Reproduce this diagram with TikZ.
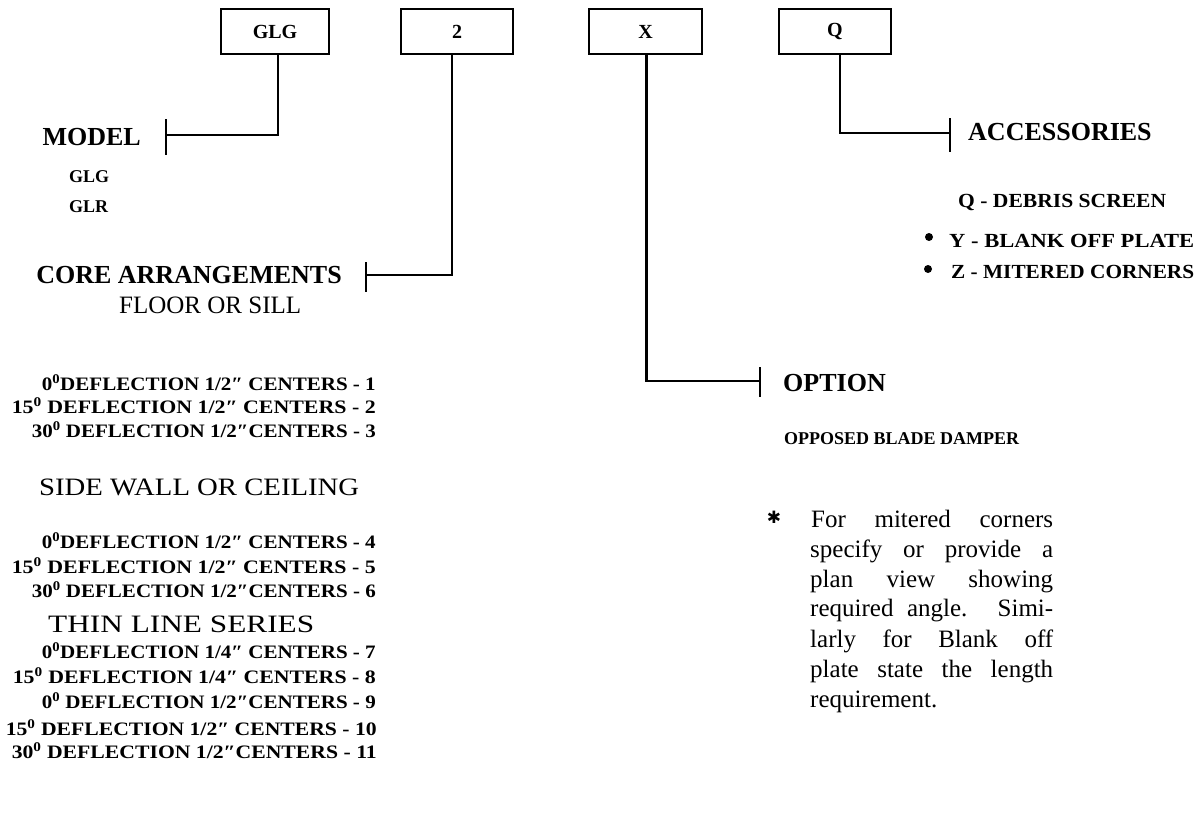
\documentclass[tikz,border=0pt]{standalone}
\usepackage{fontspec}
\setmainfont{Liberation Serif}
\newfontfamily\djv{DejaVu Sans}
\usepackage{graphicx}
\newcommand{\fs}[1]{\fontsize{#1}{#1}\selectfont}
\newcommand{\fitw}[2]{\resizebox{#1pt}{\height}{#2}}
\newcommand{\inch}{\char"2033\relax}
\newcommand{\dg}{\textsuperscript{0}}
\begin{document}
\begin{tikzpicture}[x=1pt,y=-1pt, line width=2.4pt,
  box/.style={draw, minimum height=45pt, inner sep=0pt, font=\fs{20}\bfseries},
  head/.style={inner sep=0pt, font=\fs{26}\bfseries},
  item/.style={inner sep=0pt, anchor=base east, font=\fs{19}\bfseries},
  sub/.style={inner sep=0pt, anchor=base west, font=\fs{25}},
  note/.style={inner sep=0pt, anchor=base west, font=\fs{25}},
  acc/.style={inner sep=0pt, anchor=base west, font=\fs{20}\bfseries},
  dot/.style={circle, fill, inner sep=0pt, minimum size=8pt},
  tick/.style={line width=2.4pt}
]
\useasboundingbox (0,0) rectangle (1200,814);

% code boxes
\node[box, minimum width=108pt] (glg) at (275,31.5) {GLG};
\node[box, minimum width=112pt] (two) at (457,31.5) {2};
\node[box, minimum width=113pt] (xb) at (645.5,31.5) {X};
\node[box, minimum width=112pt] (qb) at (835,31.5) {Q};

% tick coordinates
\coordinate (mt) at (166,135);
\coordinate (ct) at (366,275);
\coordinate (ot) at (760,381);
\coordinate (at) at (950,133);

% connectors
\draw ([xshift=3pt]glg.south) |- (mt);
\draw ([xshift=-5pt]two.south) |- (ct);
\draw ([xshift=1pt]xb.south) |- (ot);
\draw ([xshift=5pt]qb.south) |- (at);
\draw[tick] (mt) ++(0,-16) -- ++(0,36);
\draw[tick] (ct) ++(0,-13) -- ++(0,30);
\draw[tick] (ot) ++(0,-14) -- ++(0,30);
\draw[tick] (at) ++(0,-15) -- ++(0,34);

% MODEL
\node[head, anchor=base east] (model) at (142,145) {MODEL};
\node[acc, font=\fs{18}\bfseries] (m1) at (68,182) {GLG};
\node[acc, font=\fs{18}\bfseries] (m2) at (68,212) {GLR};

% CORE ARRANGEMENTS
\node[head, anchor=base east] (core) at (343,283) {CORE ARRANGEMENTS};
\node[sub] (floor) at (118,313) {\fitw{182}{FLOOR OR SILL}};
\node[item] (i1) at (377,390) {\fitw{334}{0\dg DEFLECTION 1/2\inch{} CENTERS - 1}};
\node[item] (i2) at (377,413) {\fitw{364}{15\dg{} DEFLECTION 1/2\inch{} CENTERS - 2}};
\node[item] (i3) at (377,437) {\fitw{344}{30\dg{} DEFLECTION 1/2\inch CENTERS - 3}};
\node[sub] (side) at (38,495) {\fitw{320}{SIDE WALL OR CEILING}};
\node[item] (i4) at (377,548) {\fitw{334}{0\dg DEFLECTION 1/2\inch{} CENTERS - 4}};
\node[item] (i5) at (377,573) {\fitw{364}{15\dg{} DEFLECTION 1/2\inch{} CENTERS - 5}};
\node[item] (i6) at (377,597) {\fitw{344}{30\dg{} DEFLECTION 1/2\inch CENTERS - 6}};
\node[sub] (thin) at (47,632) {\fitw{266}{THIN LINE SERIES}};
\node[item] (i7) at (377,658) {\fitw{334}{0\dg DEFLECTION 1/4\inch{} CENTERS - 7}};
\node[item] (i8) at (377,683) {\fitw{363}{15\dg{} DEFLECTION 1/4\inch{} CENTERS - 8}};
\node[item] (i9) at (377,708) {\fitw{334}{0\dg{} DEFLECTION 1/2\inch CENTERS - 9}};
\node[item] (i10) at (378,735) {\fitw{371}{15\dg{} DEFLECTION 1/2\inch{} CENTERS - 10}};
\node[item] (i11) at (378,758) {\fitw{365}{30\dg{} DEFLECTION 1/2\inch CENTERS - 11}};

% ACCESSORIES
\node[head, anchor=base west] (access) at (967,140) {ACCESSORIES};
\node[acc] (a1) at (957,207) {\fitw{208}{Q - DEBRIS SCREEN}};
\node[dot] (b1) at (929,237) {};
\node[acc] (a2) at (948,247) {\fitw{245}{Y - BLANK OFF PLATE}};
\node[dot] (b2) at (928,269) {};
\node[acc] (a3) at (950,278) {\fitw{243}{Z - MITERED CORNERS}};

% OPTION
\node[head, anchor=base west] (option) at (782,391) {OPTION};
\node[acc, font=\fs{18}\bfseries] (o1) at (783,444) {OPPOSED BLADE DAMPER};

% note
\node[inner sep=0pt, font=\djv\fs{17}] (ast) at (774,517) {✱};
\node[note] (n1) at (810,527) {\makebox[242pt][s]{For mitered corners}};
\node[note] (n2) at (809,557) {\makebox[243pt][s]{specify or provide a}};
\node[note] (n3) at (809,587) {\makebox[243pt][s]{plan view showing}};
\node[note] (n4) at (809,616) {\makebox[243pt][s]{required angle. Simi-}};
\node[note] (n5) at (809,647) {\makebox[243pt][s]{larly for Blank off}};
\node[note] (n6) at (809,677) {\makebox[243pt][s]{plate state the length}};
\node[note] (n7) at (809,707) {requirement.};
\end{tikzpicture}
\end{document}
